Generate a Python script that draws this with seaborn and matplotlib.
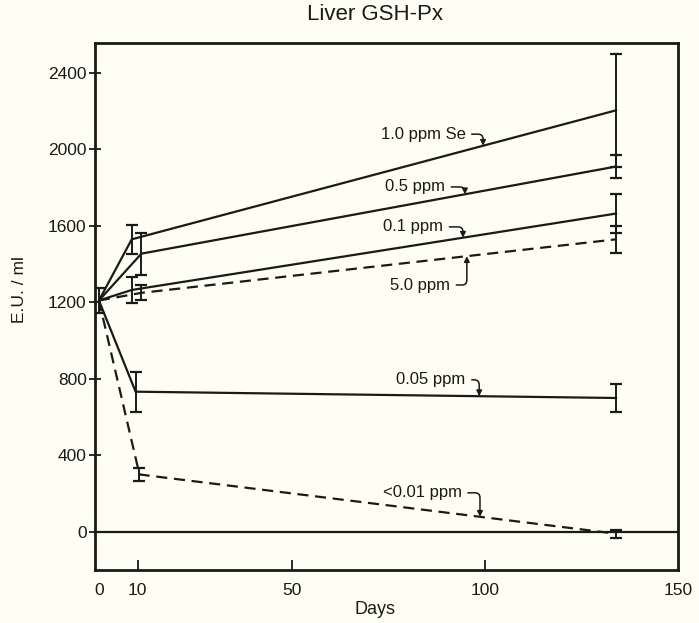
import numpy as np
import pandas as pd
import matplotlib
matplotlib.use("Agg")
import matplotlib.pyplot as plt
import seaborn as sns

# values
series = ["1.0 ppm Se", "0.5 ppm", "0.1 ppm", "5.0 ppm", "0.05 ppm", "<0.01 ppm"]
dashed = [False, False, False, True, False, True]
day_first = [0, 0, 0, 0, 0, 0]
day_mid = [8.5, 11, 8.5, 11, 9.5, 10.5]
day_last = [134, 134, 134, 134, 134, 134]
mean_first = [1210, 1210, 1210, 1210, 1210, 1210]
mean_mid = [1530, 1455, 1265, 1250, 733, 300]
mean_last = [2205, 1911, 1665, 1530, 700, -10]
err_first = [65, 0, 0, 0, 0, 0]
err_mid = [77, 110, 70, 40, 105, 35]
err_last = [295, 60, 100, 72, 75, 20]

# where the hooked labels sit (text right edge) and where the hook lands
label_x = [95, 89.7, 89.2, 91, 95, 94]
label_y = [2080, 1804, 1595, 1291, 795, 204]
hook_day = [99.5, 94.8, 94.3, 95.3, 98.5, 98.7]

rows = []
for i, s in enumerate(series):
    for d, m in zip([day_first[i], day_mid[i], day_last[i]],
                    [mean_first[i], mean_mid[i], mean_last[i]]):
        rows.append({"series": s, "day": d, "value": m})
df = pd.DataFrame(rows)

sns.set_theme(style="ticks")
plt.rcParams["font.family"] = ["Liberation Sans", "DejaVu Sans"]
ink = "#1a1a16"
paper = "#fffef4"

fig = plt.figure(figsize=(6.99, 6.23), dpi=100)
fig.patch.set_facecolor(paper)
ax = fig.add_axes([0.136, 0.085, 0.834, 0.846])
ax.set_facecolor(paper)

sns.lineplot(data=df, x="day", y="value", hue="series", style="series",
             palette={s: ink for s in series},
             dashes={s: ((5, 3) if d else "") for s, d in zip(series, dashed)},
             estimator=None, sort=False, lw=1.6, legend=False, ax=ax)

for i, s in enumerate(series):
    xs = [day_first[i], day_mid[i], day_last[i]]
    ys = [mean_first[i], mean_mid[i], mean_last[i]]
    es = [err_first[i], err_mid[i], err_last[i]]
    keep = [k for k in range(3) if es[k] > 0]
    ax.errorbar([xs[k] for k in keep], [ys[k] for k in keep],
                yerr=[es[k] for k in keep], fmt="none", ecolor=ink,
                elinewidth=1.4, capsize=4.5, capthick=1.6)

    # hooked arrow label pointing at the line
    ty = np.interp(hook_day[i], xs, ys)
    ax.annotate(s, xy=(hook_day[i], ty), xytext=(label_x[i], label_y[i]),
                ha="right", va="center", fontsize=12, color=ink,
                arrowprops=dict(arrowstyle="-|>", color=ink, lw=1.1,
                                mutation_scale=8, shrinkA=2, shrinkB=0,
                                relpos=(1, 0.5),
                                connectionstyle="angle,angleA=0,angleB=90,rad=5"))

ax.axhline(0, color=ink, lw=1.6)

ax.set_xlim(-1, 150)
ax.set_ylim(-200, 2557)
ax.set_xticks([0, 10, 50, 100, 150])
ax.set_yticks([0, 400, 800, 1200, 1600, 2000, 2400])
ax.tick_params(axis="x", direction="in", length=7, width=1.3, colors=ink,
               labelsize=12.5, pad=9)
ax.tick_params(axis="y", direction="inout", length=8, width=1.3, colors=ink,
               labelsize=12.5, pad=2)
# the end ticks sit on the frame in the original, only labels show
xt = ax.xaxis.get_major_ticks()
xt[0].tick1line.set_visible(False)
xt[-1].tick1line.set_visible(False)
ax.set_xlabel("")
ax.set_ylabel("")
for sp in ax.spines.values():
    sp.set_visible(True)
    sp.set_linewidth(2)
    sp.set_color(ink)

fig.text(375 / 699, 1 - 15 / 623, "Liver GSH-Px", ha="center", va="center",
         fontsize=16, color=ink)
fig.text(375 / 699, 1 - 610 / 623, "Days", ha="center", va="center",
         fontsize=13, color=ink)
fig.text(20 / 699, 1 - 290 / 623, "E.U. / ml", ha="center", va="center",
         rotation=90, fontsize=12.5, color=ink)

fig.savefig("out.png", dpi=100, facecolor=paper)
